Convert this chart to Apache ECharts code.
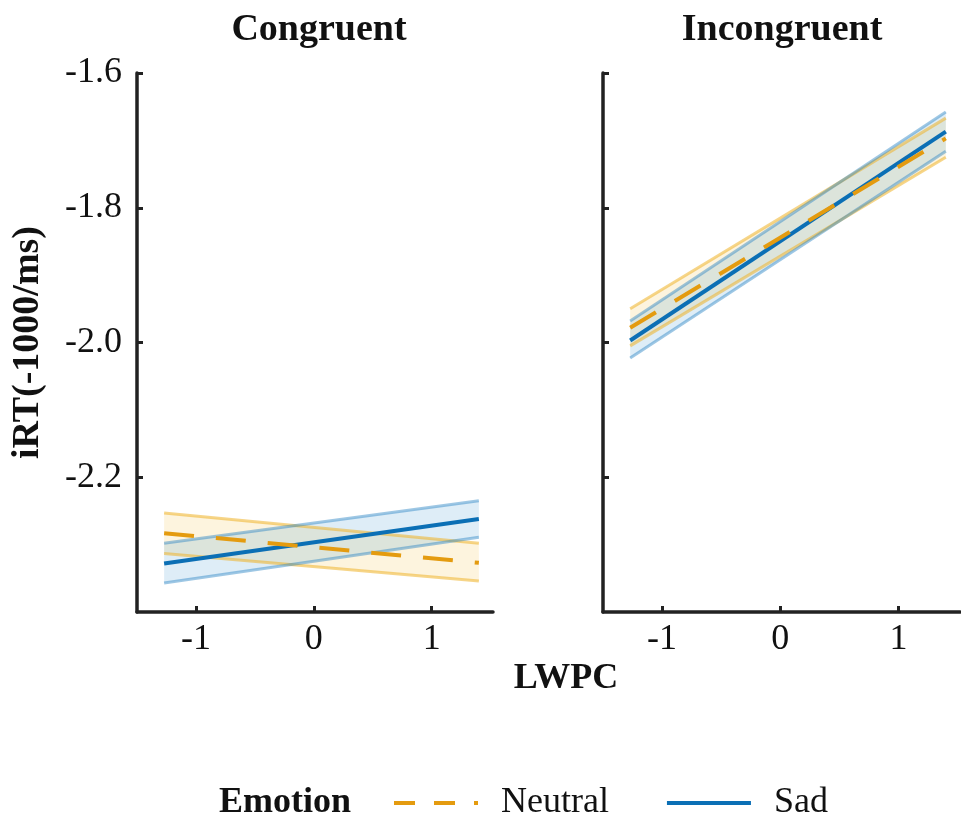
<!DOCTYPE html>
<html>
<head>
<meta charset="utf-8">
<script src="https://cdn.jsdelivr.net/npm/echarts@6/dist/echarts.min.js"></script>
<style>
  html, body { margin: 0; padding: 0; background: #fff; }
  #main { width: 961px; height: 814px; }
</style>
</head>
<body>
<div id="main"></div>
<script>
// x positions of the fitted line ends (LWPC, standardized)
var xEnds = [-1.27, 1.40];

// Congruent panel: [at left end, at right end]
var congNeutral = [-2.283, -2.327];
var congNeutralHi = [-2.253, -2.298];
var congNeutralLo = [-2.313, -2.354];
var congSad = [-2.328, -2.262];
var congSadHi = [-2.298, -2.235];
var congSadLo = [-2.357, -2.289];

// Incongruent panel
var incNeutral = [-1.978, -1.697];
var incNeutralHi = [-1.950, -1.667];
var incNeutralLo = [-2.005, -1.725];
var incSad = [-1.997, -1.687];
var incSadHi = [-1.968, -1.658];
var incSadLo = [-2.023, -1.716];

var xTicks = [-1, 0, 1];
var yTicks = [-2.2, -2.0, -1.8, -1.6];
var panelTitles = ['Congruent', 'Incongruent'];

var blue = '#0b6fb5', orange = '#e49b0f';
var serif = 'Liberation Serif';

function pts(vals) {
    return xEnds.map(function (x, i) { return [x, vals[i]]; });
}
// band rows are [y, x] so that the stacked dimension is y
function bandRows(vals) {
    return xEnds.map(function (x, i) { return [vals[i], x]; });
}
function diffRows(hi, lo) {
    return xEnds.map(function (x, i) { return [+(hi[i] - lo[i]).toFixed(4), x]; });
}

function band(idx, name, lo, hi, edge, fill) {
    var stack = 'band' + idx + name;
    return [
        {
            name: name + ' CI', type: 'line', xAxisIndex: idx, yAxisIndex: idx,
            stack: stack, stackStrategy: 'all', data: bandRows(lo), encode: { x: 1, y: 0 },
            symbol: 'none', silent: true,
            lineStyle: { color: edge, width: 3 }
        },
        {
            name: name + ' CI', type: 'line', xAxisIndex: idx, yAxisIndex: idx,
            stack: stack, stackStrategy: 'all', data: diffRows(hi, lo), encode: { x: 1, y: 0 },
            symbol: 'none', silent: true,
            lineStyle: { color: edge, width: 3 },
            areaStyle: { color: fill, opacity: 1 }
        }
    ];
}

function mid(idx, name, vals, color, type) {
    return {
        name: name, type: 'line', xAxisIndex: idx, yAxisIndex: idx,
        data: pts(vals), symbol: 'none',
        lineStyle: { color: color, width: 4, type: type },
        itemStyle: { color: color }
    };
}

var series = [];
[[congNeutral, congNeutralHi, congNeutralLo, congSad, congSadHi, congSadLo],
 [incNeutral, incNeutralHi, incNeutralLo, incSad, incSadHi, incSadLo]].forEach(function (p, i) {
    series = series.concat(band(i, 'Neutral', p[2], p[1], 'rgba(238,178,40,0.55)', 'rgba(240,185,50,0.16)'));
    series = series.concat(band(i, 'Sad', p[5], p[4], 'rgba(40,130,195,0.45)', 'rgba(60,150,210,0.17)'));
    series.push(mid(i, 'Sad', p[3], blue, 'solid'));
    series.push(mid(i, 'Neutral', p[0], orange, [30, 22]));
});

var axisLine = { show: true, onZero: false, lineStyle: { color: '#222', width: 3.5 } };
var axisTick = { show: true, inside: true, length: 6, lineStyle: { color: '#222', width: 3 } };

function xAxis(idx) {
    return {
        type: 'value', gridIndex: idx, min: -1.5, max: 1.52,
        axisLine: axisLine,
        axisTick: Object.assign({ customValues: xTicks }, axisTick),
        axisLabel: {
            customValues: xTicks, margin: 10, color: '#111', fontSize: 36, fontFamily: serif,
            formatter: function (v) { return String(Math.round(v)); }
        },
        splitLine: { show: false }
    };
}
function yAxis(idx) {
    return {
        type: 'value', gridIndex: idx, min: -2.4, max: -1.6,
        axisLine: axisLine,
        axisTick: Object.assign({ customValues: yTicks }, axisTick),
        axisLabel: {
            show: idx === 0, customValues: yTicks, margin: 15, color: '#111', fontSize: 36, fontFamily: serif,
            formatter: function (v) { return v.toFixed(1); }
        },
        splitLine: { show: false },
        name: idx === 0 ? 'iRT(-1000/ms)' : '',
        nameLocation: 'middle', nameRotate: 90, nameGap: 90,
        nameTextStyle: { color: '#111', fontSize: 38, fontWeight: 'bold', fontFamily: serif }
    };
}

var myChart = echarts.init(document.getElementById('main'));
var option = {
    backgroundColor: '#fff',
    animation: false,
    title: [
        { text: panelTitles[0], left: 314, top: 6, textAlign: 'center',
          textStyle: { fontSize: 38, fontWeight: 'bold', fontFamily: serif, color: '#111' } },
        { text: panelTitles[1], left: 777, top: 6, textAlign: 'center',
          textStyle: { fontSize: 38, fontWeight: 'bold', fontFamily: serif, color: '#111' } },
        { text: 'LWPC', left: 561, top: 656, textAlign: 'center',
          textStyle: { fontSize: 36, fontWeight: 'bold', fontFamily: serif, color: '#111' } },
        { text: 'Emotion', left: 214, top: 780,
          textStyle: { fontSize: 36, fontWeight: 'bold', fontFamily: serif, color: '#111' } }
    ],
    legend: {
        data: [{ name: 'Neutral', lineStyle: { type: [21, 19], width: 4 } }, 'Sad'],
        left: 387, top: 780, itemWidth: 84, itemHeight: 36, itemGap: 56,
        itemStyle: { opacity: 0 },
        lineStyle: { width: 4 },
        textStyle: { fontSize: 36, fontFamily: serif, color: '#111', padding: [0, 0, 0, 18] }
    },
    grid: [
        { left: 137, top: 73, width: 356, height: 539 },
        { left: 603, top: 73, width: 357, height: 539 }
    ],
    xAxis: [xAxis(0), xAxis(1)],
    yAxis: [yAxis(0), yAxis(1)],
    series: series
};
myChart.setOption(option);
window.addEventListener('resize', function () {
    myChart.resize();
});
</script>
</body>
</html>
